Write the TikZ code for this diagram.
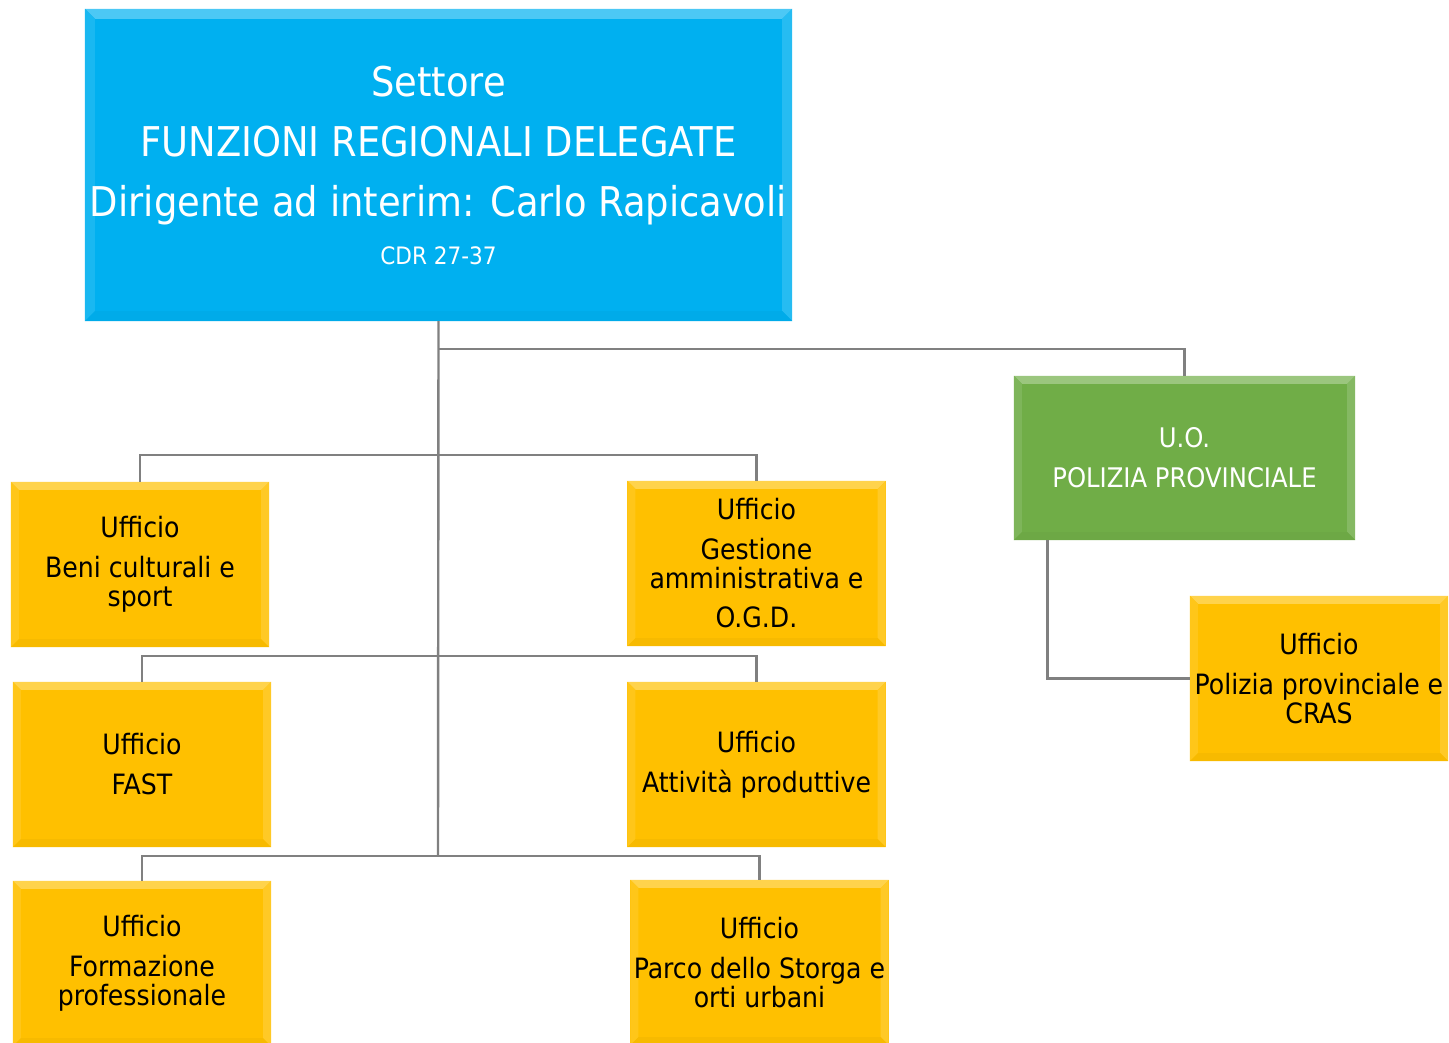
\documentclass[tikz,border=0pt]{standalone}
\usepackage{fontspec}
\IfFontExistsTF{DejaVu Sans Condensed}{\setmainfont{DejaVu Sans Condensed}}{\setmainfont{DejaVu Sans}}
\usetikzlibrary{backgrounds}
\definecolor{cblue}{HTML}{00B0F0}
\definecolor{cgreen}{HTML}{70AD47}
\definecolor{cyell}{HTML}{FFC000}
\definecolor{cline}{HTML}{808080}
\tikzset{
  box/.style={rectangle, inner sep=0pt, align=center},
  topbox/.style={box, text=white, minimum width=707pt, minimum height=312pt, font=\fontsize{41}{48}\selectfont},
  greenbox/.style={box, text=white, minimum width=341pt, minimum height=164pt, font=\fontsize{27}{29}\selectfont},
  yellbox/.style={box, text=black, minimum width=258pt, minimum height=165pt, font=\fontsize{28}{29}\selectfont},
  conn/.style={draw=cline, line width=2.4pt}
}
\newcommand\bevelbox[3]{%
  \fill[#2] (#1.north west) rectangle (#1.south east);
  \fill[#2!70!white] (#1.north west) -- (#1.north east) -- ([shift={(-#3,-#3)}]#1.north east) -- ([shift={(#3,-#3)}]#1.north west) -- cycle;
  \fill[#2!90!white] (#1.north west) -- ([shift={(#3,-#3)}]#1.north west) -- ([shift={(#3,#3)}]#1.south west) -- (#1.south west) -- cycle;
  \fill[#2!85!white] (#1.north east) -- ([shift={(-#3,-#3)}]#1.north east) -- ([shift={(-#3,#3)}]#1.south east) -- (#1.south east) -- cycle;
  \fill[#2!97!black] (#1.south west) -- ([shift={(#3,#3)}]#1.south west) -- ([shift={(-#3,#3)}]#1.south east) -- (#1.south east) -- cycle;
}
\begin{document}
\begin{tikzpicture}[x=1pt,y=-1pt]
\useasboundingbox (0,0) rectangle (1449,1043);
\node[topbox] (top) at (438.5,165) {Settore\\[12pt]FUNZIONI REGIONALI DELEGATE\\[12pt]Dirigente ad interim: Carlo Rapicavoli\\[0pt]{\fontsize{24}{26}\selectfont CDR 27-37}};
\node[greenbox] (uo) at (1184.5,458) {U.O.\\[11pt]POLIZIA PROVINCIALE};
\node[yellbox] (beni) at (140,564.5) {Ufficio\\[11pt]Beni culturali e\\sport};
\node[yellbox] (fast) at (142,764.5) {Ufficio\\[11pt]FAST};
\node[yellbox] (form) at (142,963.5) {Ufficio\\[11pt]Formazione\\professionale};
\node[yellbox] (gest) at (756.5,563.5) {Ufficio\\[11pt]Gestione\\amministrativa e\\[10pt]O.G.D.};
\node[yellbox] (att) at (756.5,764.5) {Ufficio\\[11pt]Attività produttive};
\node[yellbox] (parco) at (759.5,962.5) {Ufficio\\[11pt]Parco dello Storga e\\orti urbani};
\node[yellbox] (cras) at (1319,678.5) {Ufficio\\[11pt]Polizia provinciale e\\CRAS};
\begin{pgfonlayer}{background}
\bevelbox{top}{cblue}{10pt}
\bevelbox{uo}{cgreen}{8pt}
\foreach \n in {beni,fast,form,gest,att,parco,cras}{\bevelbox{\n}{cyell}{8pt}}
\end{pgfonlayer}
\coordinate (trunkend) at (438,856);
\draw[conn] (top.south) -- (trunkend);
\draw[conn] (top.south) ++(0,28) -| (uo.north);
\draw[conn] (beni.north) |- (438,455) -| (gest.north);
\draw[conn] (fast.north) |- (438,656) -| (att.north);
\draw[conn] (form.north) |- (trunkend) -| (parco.north);
\draw[conn] ([xshift=-137pt]uo.south) |- (cras.west);
\end{tikzpicture}
\end{document}
